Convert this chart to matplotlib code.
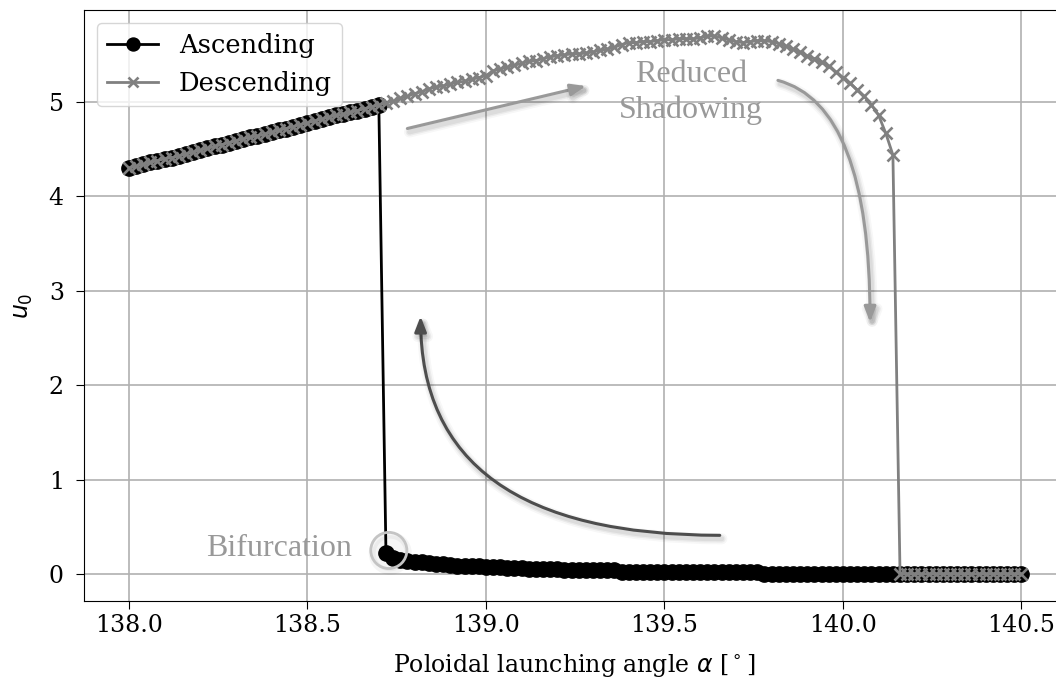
import numpy as np
import matplotlib
matplotlib.use("Agg")
import matplotlib.pyplot as plt
import matplotlib.patheffects as pe

plt.rcParams['font.family'] = 'DejaVu Serif'

# poloidal launching angle sweep (deg), 138.00 .. 140.50
angle = np.round(np.arange(138.0, 140.5001, 0.02), 2)

# branch shared by both sweeps, 138.00 .. 138.70
u_shared = [4.30, 4.32, 4.34, 4.36, 4.38, 4.40, 4.41, 4.43, 4.45, 4.47,
            4.49, 4.51, 4.53, 4.55, 4.57, 4.59, 4.61, 4.63, 4.64, 4.66,
            4.68, 4.70, 4.72, 4.74, 4.76, 4.78, 4.80, 4.82, 4.84, 4.86,
            4.87, 4.89, 4.91, 4.93, 4.95, 4.97]

# ascending sweep after the bifurcation, 138.72 .. 140.50
u_asc_low = [0.22, 0.17, 0.15, 0.14, 0.13, 0.125, 0.12, 0.11, 0.105, 0.10,
             0.09, 0.085, 0.08, 0.08, 0.075,
             0.07, 0.07, 0.065, 0.06, 0.06, 0.055, 0.055, 0.05, 0.05, 0.05,
             0.045, 0.045, 0.045, 0.04, 0.04, 0.04, 0.04, 0.04,
             0.02, 0.02, 0.02, 0.02, 0.02, 0.02, 0.02, 0.02, 0.02, 0.02,
             0.02, 0.02, 0.02, 0.02, 0.02, 0.02, 0.02, 0.02, 0.02, 0.02,
             0.005, 0.005, 0.005, 0.005, 0.005, 0.005, 0.005, 0.005, 0.005, 0.005,
             0.005, 0.005, 0.005, 0.005, 0.005, 0.005, 0.005, 0.005, 0.005,
             0.0, 0.0, 0.0, 0.0, 0.0, 0.0, 0.0, 0.0, 0.0,
             0.0, 0.0, 0.0, 0.0, 0.0, 0.0, 0.0, 0.0, 0.0]

# descending sweep, upper branch 138.72 .. 140.14
u_desc_high = [4.99, 5.01, 5.04, 5.06, 5.09, 5.11, 5.14, 5.16, 5.17, 5.19,
               5.21, 5.22, 5.24, 5.26, 5.28,
               5.33, 5.35, 5.37, 5.39, 5.41, 5.43, 5.44, 5.46, 5.48, 5.49,
               5.50, 5.51, 5.51, 5.52, 5.53, 5.55, 5.56, 5.58, 5.61, 5.63,
               5.63, 5.64, 5.64, 5.65, 5.66, 5.66, 5.67, 5.67, 5.67, 5.68,
               5.70, 5.70, 5.68, 5.66, 5.64, 5.63, 5.64, 5.65, 5.65, 5.64,
               5.62, 5.59, 5.56, 5.53, 5.49, 5.46, 5.42, 5.38, 5.32, 5.26,
               5.20, 5.13, 5.06, 4.97, 4.86, 4.67, 4.44]
# descending sweep after the collapse, 140.16 .. 140.50
u_desc_low = [0.0] * 18

u_asc = u_shared + u_asc_low
u_desc = u_shared + u_desc_high + u_desc_low

fig = plt.figure(figsize=(10.56, 6.84), dpi=100)
ax = fig.add_axes([0.0795, 0.1213, 0.929, 0.864])

ax.plot(angle, u_asc, '-o', color='black', lw=2, ms=11, label='Ascending', zorder=3)
ax.plot(angle, u_desc, '-x', color='gray', lw=2, ms=8, mew=1.9, label='Descending', zorder=4)

ax.set_xlim(137.874, 140.622)
ax.set_ylim(-0.286, 5.975)
ax.set_xticks([138.0, 138.5, 139.0, 139.5, 140.0, 140.5])
ax.grid(True, color='#b0b0b0', lw=1.2)
ax.tick_params(labelsize=17, length=6)
ax.tick_params(axis='y', pad=8.5)
ax.set_xlabel(r'Poloidal launching angle $\alpha$ [$^\circ$]', fontsize=17, labelpad=11)
ax.set_ylabel(r'$u_0$', fontsize=17, labelpad=10)
ax.legend(loc='upper left', fontsize=18.5, markerscale=0.85)

# soft drop shadow, faked with a few wide translucent strokes
shadow = [pe.Stroke(offset=(1.5, -2.5), linewidth=8, foreground='black', alpha=0.03),
          pe.Stroke(offset=(1.5, -2.5), linewidth=5.5, foreground='black', alpha=0.05),
          pe.Stroke(offset=(1.5, -2.5), linewidth=3.5, foreground='black', alpha=0.06),
          pe.Normal()]
glow = [pe.Stroke(offset=(1, -2), linewidth=5, foreground='black', alpha=0.04),
        pe.Normal()]
txt_font = dict(family='Liberation Serif', fontsize=23, color='#999999')

# annotations
ax.text(139.574, 5.10, 'Reduced\nShadowing', ha='center', va='center',
        linespacing=1.3, **txt_font)
ax.text(138.625, 0.27, 'Bifurcation', ha='right', va='center', **txt_font)
ax.plot([138.728], [0.25], 'o', ms=26, mfc='none', mec='#c4c4c4', mew=2,
        zorder=5, path_effects=glow)

a1 = ax.annotate('', xy=(139.28, 5.17), xytext=(138.78, 4.72),
                 arrowprops=dict(arrowstyle='-|>,head_length=0.9,head_width=0.35',
                                 color='#999999', lw=2.2, shrinkA=0, shrinkB=0))
a2 = ax.annotate('', xy=(140.076, 2.67), xytext=(139.818, 5.23),
                 arrowprops=dict(arrowstyle='-|>,head_length=0.9,head_width=0.35',
                                 connectionstyle='angle3,angleA=-15,angleB=90',
                                 color='#999999', lw=2.2, shrinkA=0, shrinkB=0))
a3 = ax.annotate('', xy=(138.817, 2.73), xytext=(139.655, 0.41),
                 arrowprops=dict(arrowstyle='-|>,head_length=0.9,head_width=0.35',
                                 connectionstyle='angle3,angleA=0,angleB=90',
                                 color='#4d4d4d', lw=2.2, shrinkA=0, shrinkB=0))
for a in (a1, a2, a3):
    a.arrow_patch.set_path_effects(shadow)

fig.savefig('out.png', dpi=100)
